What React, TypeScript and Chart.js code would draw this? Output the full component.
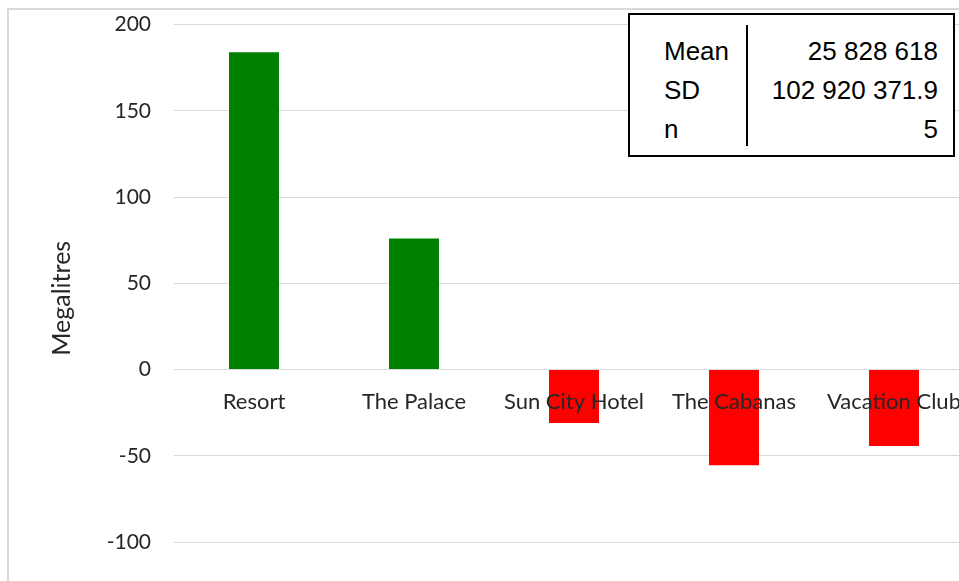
import React, { useEffect, useRef } from "react";
import { Chart, registerables } from "chart.js";

Chart.register(...registerables);

// Water use per hotel, in megalitres
const hotels = ["Resort", "The Palace", "Sun City Hotel", "The Cabanas", "Vacation Club"];
const megalitres = [184, 76, -31, -55.5, -44.4];
const barColours = megalitres.map((v) => (v >= 0 ? "#008000" : "#ff0000"));

// Y axis range and step
const yMin = -100;
const yMax = 200;
const yStep = 50;
const yTitle = "Megalitres";

// Summary statistics box
const statLabels = ["Mean", "SD", "n"];
const statValues = ["25 828 618", "102 920 371.9", "5"];

const labelFont = "Lato, 'Open Sans', sans-serif";
const textColour = "#262626";

// Rotated axis title, centred a little below the middle of the plot
const axisTitlePlugin = {
  id: "axisTitle",
  afterDraw(chart: any) {
    const { ctx, chartArea } = chart;
    const x = 53;
    const y = (chartArea.top + chartArea.bottom) / 2 + 15;
    ctx.save();
    ctx.translate(x, y);
    ctx.rotate(-Math.PI / 2);
    ctx.font = `25px ${labelFont}`;
    ctx.fillStyle = textColour;
    ctx.textAlign = "center";
    ctx.textBaseline = "middle";
    ctx.fillText(yTitle, 0, 0);
    ctx.restore();
  },
};

export default function App() {
  const canvasRef = useRef<HTMLCanvasElement | null>(null);

  useEffect(() => {
    const canvas = canvasRef.current;
    if (!canvas) return;
    const chart = new Chart(canvas, {
      type: "bar",
      data: {
        labels: hotels,
        datasets: [
          {
            label: yTitle,
            data: megalitres,
            backgroundColor: barColours,
            borderWidth: 0,
            categoryPercentage: 1,
            barPercentage: 0.3125,
          },
        ],
      },
      options: {
        responsive: false,
        animation: false,
        layout: { padding: { left: 0, right: 45, top: 0, bottom: 68 } },
        plugins: {
          legend: { display: false },
          tooltip: { enabled: false },
        },
        scales: {
          x: {
            type: "category",
            position: { y: 0 },
            grid: { display: false, drawTicks: false },
            border: { display: false },
            ticks: {
              z: 1,
              padding: 19,
              color: textColour,
              font: { family: labelFont, size: 22 },
              maxRotation: 0,
              autoSkip: false,
            },
          },
          y: {
            min: yMin,
            max: yMax,
            afterFit: (scale: any) => {
              scale.width = 165;
            },
            grid: { color: "#d9d9d9", lineWidth: 1, drawTicks: false },
            border: { display: false },
            ticks: {
              stepSize: yStep,
              padding: 23,
              color: textColour,
              font: { family: labelFont, size: 21 },
            },
          },
        },
      },
      plugins: [axisTitlePlugin],
    });
    return () => chart.destroy();
  }, []);

  return (
    <div
      style={{
        position: "fixed",
        left: 0,
        top: 0,
        width: 959,
        height: 581,
        overflow: "hidden",
        background: "#ffffff",
      }}
    >
      <div
        style={{
          position: "absolute",
          left: 7,
          top: 8,
          width: 1010,
          height: 600,
          border: "2px solid #d9d9d9",
        }}
      >
        <canvas
          ref={canvasRef}
          width={1010}
          height={621}
          style={{ display: "block", position: "absolute", left: 0, top: -21 }}
        />
      </div>
      <div
        style={{
          position: "absolute",
          left: 628,
          top: 13,
          width: 327,
          height: 144,
          boxSizing: "border-box",
          border: "2px solid #000000",
          background: "#ffffff",
          fontFamily: "'Liberation Sans', Arial, sans-serif",
          fontSize: 26,
          color: "#000000",
        }}
      >
        <div
          style={{
            position: "absolute",
            left: 116,
            top: 10,
            width: 2,
            height: 121,
            background: "#000000",
          }}
        />
        {statLabels.map((label, i) => (
          <React.Fragment key={label}>
            <div
              style={{
                position: "absolute",
                left: 34,
                top: 17 + i * 39,
                lineHeight: "39px",
                whiteSpace: "nowrap",
              }}
            >
              {label}
            </div>
            <div
              style={{
                position: "absolute",
                right: 15,
                top: 17 + i * 39,
                lineHeight: "39px",
                whiteSpace: "nowrap",
                textAlign: "right",
              }}
            >
              {statValues[i]}
            </div>
          </React.Fragment>
        ))}
      </div>
    </div>
  );
}
